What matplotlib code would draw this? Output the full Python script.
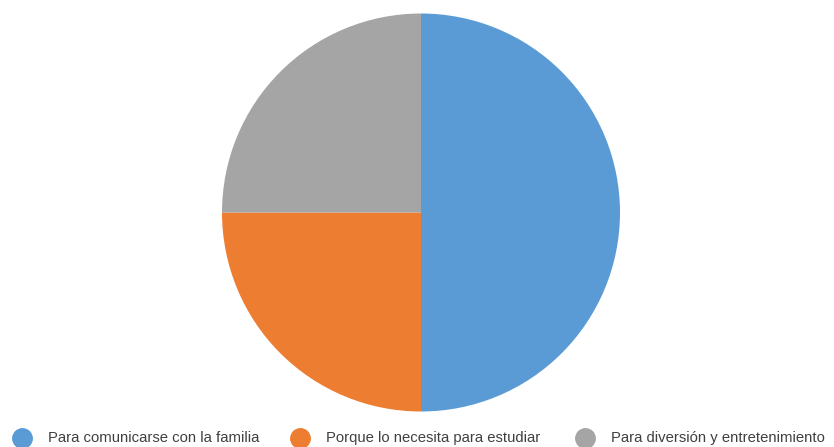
import matplotlib
matplotlib.use("Agg")
import matplotlib.pyplot as plt
from matplotlib.lines import Line2D

labels = ["Para comunicarse con la familia", "Porque lo necesita para estudiar",
          "Para diversión y entretenimiento"]
values = [50, 25, 25]
colors = ["#5B9BD5", "#ED7D31", "#A5A5A5"]

W, H = 834, 447
fig = plt.figure(figsize=(W / 100, H / 100), dpi=100)

cx, cy, r = 421, 212.5, 199
ax = fig.add_axes([(cx - r) / W, (H - cy - r) / H, 2 * r / W, 2 * r / H])
ax.pie(values, colors=colors, startangle=90, counterclock=False,
       wedgeprops=dict(linewidth=0))
ax.set_xlim(-1, 1)
ax.set_ylim(-1, 1)
ax.set_aspect("equal")
ax.axis("off")

# legend along the bottom edge, placed by hand
marker_x = [22, 300, 585]
ly = (H - 438) / H
for x, lab, c in zip(marker_x, labels, colors):
    fig.add_artist(Line2D([x / W], [ly], marker="o", markersize=14,
                          markerfacecolor=c, markeredgecolor=c,
                          transform=fig.transFigure))
    fig.text((x + 26) / W, ly, lab, ha="left", va="center", fontsize=10.7,
             family="Liberation Sans", color="#404040")

fig.savefig("out.png", dpi=100)
